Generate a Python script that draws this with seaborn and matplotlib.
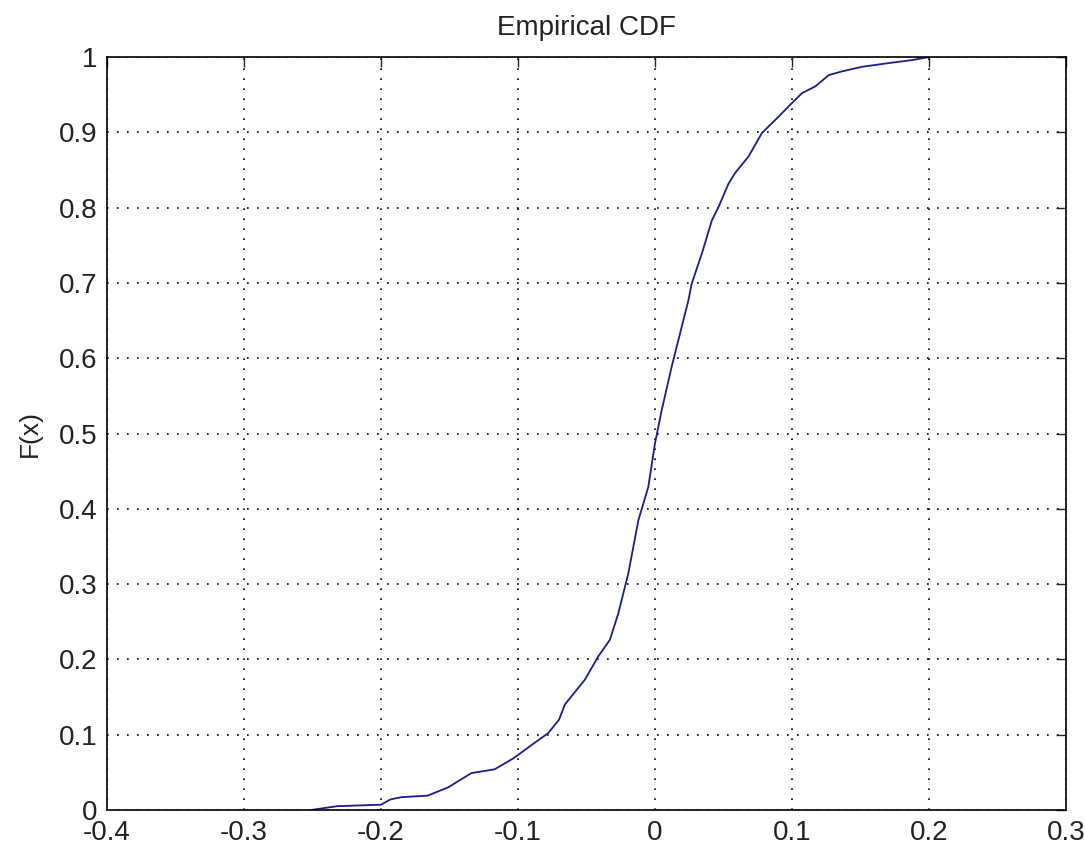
"""
Empirical CDF, MATLAB-style look (dotted grid, inward ticks).
Values read off the reference picture.
"""

import matplotlib
matplotlib.use("Agg")
import matplotlib.pyplot as plt
import seaborn as sns

# ── Data ──
x_vals = [-0.251, -0.232, -0.2, -0.193, -0.185, -0.166, -0.151, -0.134,
          -0.117, -0.103, -0.088, -0.078, -0.070, -0.0658, -0.0512, -0.0414,
          -0.0329, -0.0268, -0.0195, -0.0121, -0.0049, 0.0, 0.0049, 0.0122,
          0.0183, 0.0244, 0.0268, 0.0342, 0.0415, 0.0464, 0.0537, 0.0585,
          0.0683, 0.078, 0.0903, 0.1, 0.1073, 0.117, 0.1268, 0.1366, 0.151,
          0.1707, 0.1878, 0.2]
f_vals = [0.0, 0.005, 0.007, 0.014, 0.017, 0.019, 0.030, 0.049,
          0.054, 0.069, 0.089, 0.102, 0.120, 0.140, 0.173, 0.204,
          0.226, 0.261, 0.314, 0.385, 0.429, 0.487, 0.531, 0.589,
          0.633, 0.677, 0.699, 0.739, 0.783, 0.801, 0.832, 0.846,
          0.868, 0.899, 0.921, 0.939, 0.952, 0.961, 0.976, 0.981, 0.987,
          0.992, 0.996, 1.0]

x_ticks = [-0.4, -0.3, -0.2, -0.1, 0, 0.1, 0.2, 0.3]
x_ticklabels = ["-0.4", "-0.3", "-0.2", "-0.1", "0", "0.1", "0.2", "0.3"]
y_ticks = [0, 0.1, 0.2, 0.3, 0.4, 0.5, 0.6, 0.7, 0.8, 0.9, 1]
y_ticklabels = ["0", "0.1", "0.2", "0.3", "0.4", "0.5", "0.6", "0.7", "0.8", "0.9", "1"]

sns.set_theme(style="white")
plt.rcParams["font.family"] = ["Liberation Sans", "DejaVu Sans"]

fig = plt.figure(figsize=(10.85, 8.5), dpi=100)
ax = fig.add_axes([0.0986, 0.0471, 0.9825 - 0.0986, 0.9329 - 0.0471])

sns.lineplot(x=x_vals, y=f_vals, ax=ax, color="#1c1c8a", linewidth=1.3,
             sort=False, estimator=None)

ax.set_xlim(-0.4, 0.3)
ax.set_ylim(0, 1)
ax.set_xticks(x_ticks)
ax.set_xticklabels(x_ticklabels)
ax.set_yticks(y_ticks)
ax.set_yticklabels(y_ticklabels)

# MATLAB look: dotted black grid, ticks pointing in, black frame
ax.grid(True, color="black", linestyle=(0, (1, 5)), linewidth=1.2)
ax.tick_params(direction="in", length=7, width=1, colors="#222222",
               labelsize=20, top=True, right=True, pad=7)
for sp in ax.spines.values():
    sp.set_color("black")
    sp.set_linewidth(1.2)

ax.set_title("Empirical CDF", fontsize=20, pad=16, color="#222222")
ax.set_ylabel("F(x)", fontsize=19, labelpad=12, color="#222222")
ax.set_xlabel("")

fig.savefig("out.png", dpi=100, facecolor="white")
plt.close(fig)
